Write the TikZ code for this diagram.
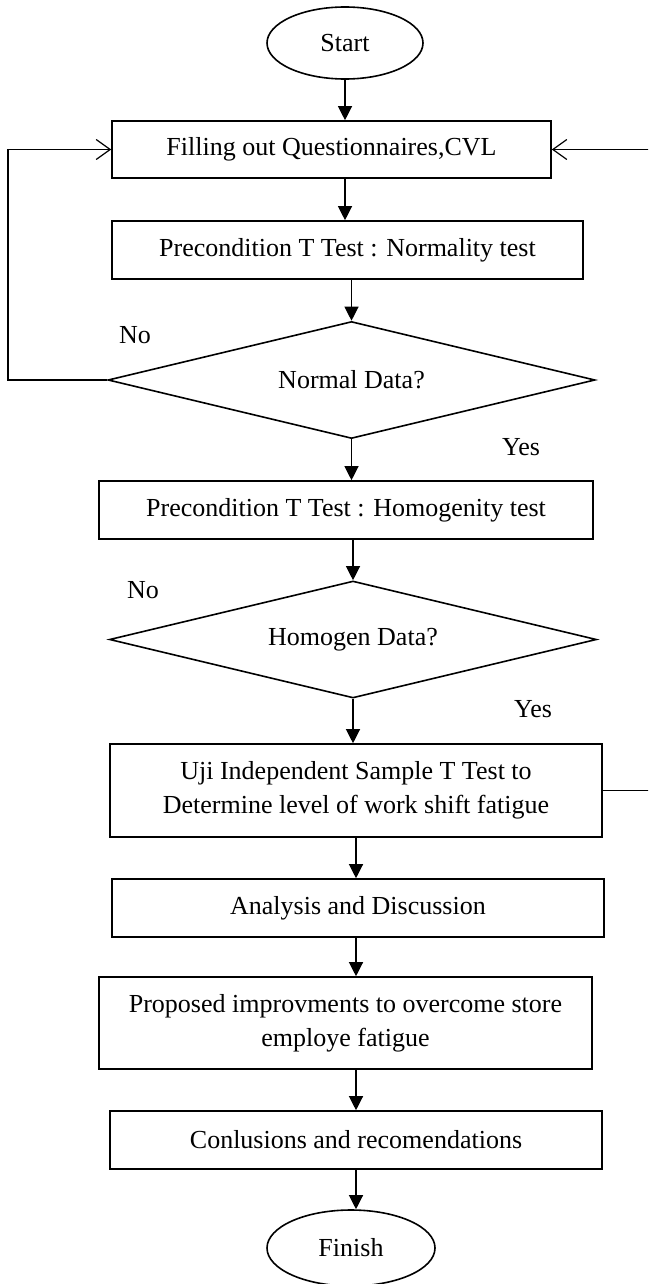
\documentclass[tikz,border=0pt]{standalone}
\usepackage{fontspec}
\setmainfont{Liberation Serif}
\usetikzlibrary{shapes.geometric,arrows.meta}
\begin{document}
\begin{tikzpicture}[x=1pt,y=-1pt,
  txt/.style={font=\fontsize{26}{34}\selectfont, align=center, inner sep=0pt},
  box/.style={txt, draw, line width=1.6pt, rectangle},
  term/.style={txt, draw, line width=1.6pt, ellipse},
  dec/.style={txt, draw, line width=1.6pt, diamond},
  arr/.style={line width=1.2pt, -{Triangle[length=14pt,width=14pt]}},
  barb/.style={line width=1.2pt, -{Straight Barb[length=14pt,width=20pt]}},
  lbl/.style={font=\fontsize{26}{30}\selectfont, inner sep=0pt}]
\useasboundingbox (0,0) rectangle (648,1284);
\clip (0,0) rectangle (648,1284);
\node[term, minimum width=156pt, minimum height=72pt] (start) at (345,43) {Start};
\node[box, minimum width=439pt, minimum height=57pt] (b1) at (331.5,149.5) {Filling out Questionnaires,CVL};
\node[box, minimum width=471pt, minimum height=58pt] (b2) at (347.5,250) {Precondition T Test : Normality test};
\node[dec, minimum width=487pt, minimum height=117pt, aspect=4.16] (d1) at (351.5,380) {Normal Data?};
\node[box, minimum width=494pt, minimum height=58pt] (b3) at (346,510) {Precondition T Test : Homogenity test};
\node[dec, minimum width=487pt, minimum height=117pt, aspect=4.16] (d2) at (353,639.5) {Homogen Data?};
\node[box, minimum width=492pt, minimum height=93pt] (b4) at (356,790.5) {Uji Independent Sample T Test to\\Determine level of work shift fatigue};
\node[box, minimum width=492pt, minimum height=58pt] (b5) at (358,908) {Analysis and Discussion};
\node[box, minimum width=493pt, minimum height=92pt] (b6) at (345.5,1023) {Proposed improvments to overcome store\\employe fatigue};
\node[box, minimum width=492pt, minimum height=58pt] (b7) at (356,1140) {Conlusions and recomendations};
\node[term, minimum width=168pt, minimum height=76pt] (fin) at (351,1248) {Finish};

\coordinate (c1) at (345,0);
\coordinate (L) at (8,0);
\coordinate (R) at (690,0);

\draw[arr] (start.south -| c1) -- (b1.north -| c1);
\draw[arr] (b1.south -| c1) -- (b2.north -| c1);
\draw[arr] (b2.south -| d1.north) -- (d1.north);
\draw[arr] (d1.south) -- (b3.north -| d1.south);
\draw[arr] (b3.south -| d2.north) -- (d2.north);
\draw[arr] (d2.south) -- (b4.north -| d2.south);
\draw[arr] (b4.south) -- (b5.north -| b4.south);
\draw[arr] (b5.south -| b4.south) -- (b6.north -| b4.south);
\draw[arr] (b6.south -| b7.north) -- (b7.north);
\draw[arr] (b7.south) -- (fin.north -| b7.south);

\draw[barb] (d1.west) -- (d1.west -| L) |- (b1.west);
\draw[barb] (b4.east) -- (b4.east -| R) |- (b1.east);

\node[lbl] (no1) at (135,335) {No};
\node[lbl] (yes1) at (521,447) {Yes};
\node[lbl] (no2) at (143,590) {No};
\node[lbl] (yes2) at (533,709) {Yes};
\end{tikzpicture}
\end{document}
